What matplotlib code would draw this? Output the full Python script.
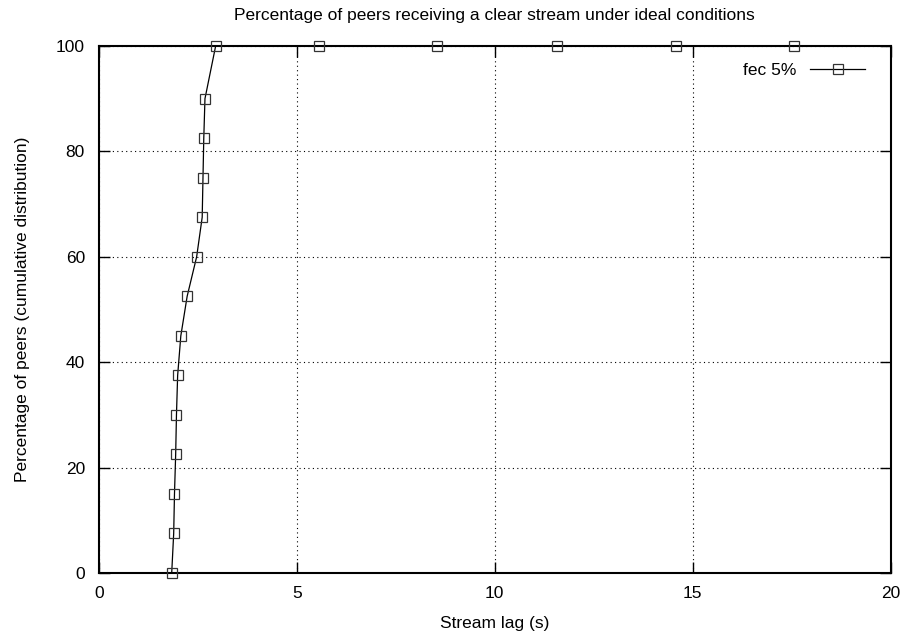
import matplotlib
matplotlib.use("Agg")
import matplotlib.pyplot as plt

plt.rcParams['font.family'] = ['Liberation Sans', 'DejaVu Sans']

# Data
lag = [1.84, 1.89, 1.91, 1.94, 1.96, 1.99, 2.07, 2.23, 2.47, 2.61, 2.63, 2.65, 2.68, 2.95,
       5.55, 8.55, 11.57, 14.57, 17.57]
peers = [0, 7.5, 15, 22.5, 30, 37.5, 45, 52.5, 60, 67.5, 75, 82.5, 90, 100,
         100, 100, 100, 100, 100]
x_ticks = [0, 5, 10, 15, 20]
y_ticks = [0, 20, 40, 60, 80, 100]

fig = plt.figure(figsize=(9.07, 6.35), dpi=100)
ax = fig.add_axes([0.109, 0.0976, 0.873, 0.83])

ax.plot(lag, peers, color="black", linewidth=0.9, marker="s", markersize=7,
        markerfacecolor="none", markeredgecolor="#333333", markeredgewidth=0.9,
        label="fec 5%", clip_on=False, zorder=3)

ax.set_xlim(0, 20)
ax.set_ylim(0, 100)
ax.set_xticks(x_ticks)
ax.set_yticks(y_ticks)

ax.grid(True, linestyle=(0, (1, 3)), color="black", linewidth=0.8)
ax.tick_params(direction="in", length=8, width=1, top=True, right=True, labelsize=12.5)
ax.tick_params(axis="x", pad=9)
ax.tick_params(axis="y", pad=10)
for s in ax.spines.values():
    s.set_linewidth(1.5)

ax.set_title("Percentage of peers receiving a clear stream under ideal conditions", fontsize=12.5, pad=19)
ax.set_xlabel("Stream lag (s)", fontsize=12.5, labelpad=11)
ax.set_ylabel("Percentage of peers (cumulative distribution)", fontsize=12.5, labelpad=19)

ax.legend(loc="upper right", frameon=False, markerfirst=False, fontsize=12.5,
          handlelength=3.2, handletextpad=0.8, borderaxespad=0.6, bbox_to_anchor=(0.99, 1.0))

fig.savefig("out.png", dpi=100)
